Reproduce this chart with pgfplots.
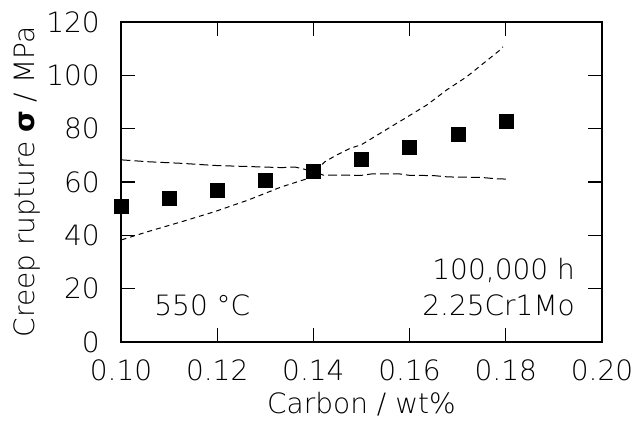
\documentclass[border=0pt]{standalone}
\usepackage{fontspec}
\IfFontExistsTF{DejaVu Sans ExtraLight}
  {\setmainfont{DejaVu Sans ExtraLight}}
  {\setmainfont{DejaVu Sans}}
\newfontfamily\sigfont{DejaVu Sans}
\usepackage{pgfplots}
\pgfplotsset{compat=1.18}
\newcommand{\bigfont}{\fontsize{28bp}{34bp}\selectfont}

\begin{document}
\begin{tikzpicture}
\begin{axis}[
  width=481bp, height=320bp,
  scale only axis,
  xmin=0.10, xmax=0.20,
  ymin=0, ymax=120,
  xtick={0.10,0.12,0.14,0.16,0.18,0.20},
  xticklabels={0.10,0.12,0.14,0.16,0.18,0.20},
  ytick={0,20,40,60,80,100,120},
  yticklabels={0,20,40,60,80,100,120},
  tick align=inside,
  major tick length=14bp,
  axis line style={line width=1.2bp},
  tick style={line width=1.2bp, black},
  xticklabel style={font=\bigfont, inner sep=0pt, anchor=north, yshift=-18bp},
  yticklabel style={font=\bigfont, inner sep=0pt, anchor=east, xshift=-21bp},
  xlabel={Carbon / wt\%},
  ylabel={Creep rupture {\sigfont\bfseries σ} / MPa},
  xlabel style={font=\bigfont, inner sep=0pt, at={(axis description cs:0.5,-0.2219)}, anchor=base},
  ylabel style={font=\bigfont, inner sep=0pt, at={(axis description cs:-0.1788,0.5)}, anchor=base},
  clip=false,
]
  % upper bound from the left (long dashes)
  \addplot[black, line width=1bp, dash pattern=on 9bp off 4bp] coordinates {
    (0.1001,68.3) (0.1056,67.6) (0.1126,67.0) (0.1195,66.2) (0.1264,65.8)
    (0.1334,65.4) (0.1362,65.6) (0.1400,64.0) (0.1420,62.6) (0.1500,62.5)
    (0.1520,63.0) (0.1580,63.0) (0.1600,62.5) (0.1650,62.4) (0.1680,61.9)
    (0.1750,61.7) (0.1780,61.2) (0.1800,61.1)
  };
  % rising curve (short dashes)
  \addplot[black, line width=1bp, dash pattern=on 5bp off 4bp] coordinates {
    (0.1001,38.3) (0.1056,41.4) (0.1126,45.1) (0.1195,48.9) (0.1264,53.2)
    (0.1334,58.2) (0.1383,61.0) (0.1400,63.5) (0.1424,67.6) (0.1448,70.1)
    (0.1476,72.6) (0.1500,74.0) (0.1573,82.0) (0.1587,83.5) (0.1636,88.9)
    (0.1677,94.5) (0.1719,99.5) (0.1788,109.5) (0.1794,110.7)
  };
  % measured points
  \addplot[only marks, mark=square*, mark size=7bp, black] coordinates {
    (0.10,51.1) (0.11,53.9) (0.12,57.0) (0.13,60.6) (0.14,64.2)
    (0.15,68.5) (0.16,73.1) (0.17,78.0) (0.18,82.9)
  };

  \node[font=\bigfont, inner sep=0pt, anchor=base west] at (axis cs:0.1069,10.1) {550 °C};
  \node[font=\bigfont, inner sep=0pt, anchor=base east] at (axis cs:0.1944,23.25) {100,000 h};
  \node[font=\bigfont, inner sep=0pt, anchor=base east] at (axis cs:0.1944,10.1) {2.25Cr1Mo};

  \coordinate (bl) at (rel axis cs:0,0);
  \coordinate (tr) at (rel axis cs:1,1);
\end{axis}
% page frame as in the reference: 121 px left, 29 px right, 22 px top, 81 px below
\pgfresetboundingbox
\path[use as bounding box] ([shift={(-121bp,-81bp)}]bl) rectangle ([shift={(29bp,22bp)}]tr);
\end{tikzpicture}
\end{document}
